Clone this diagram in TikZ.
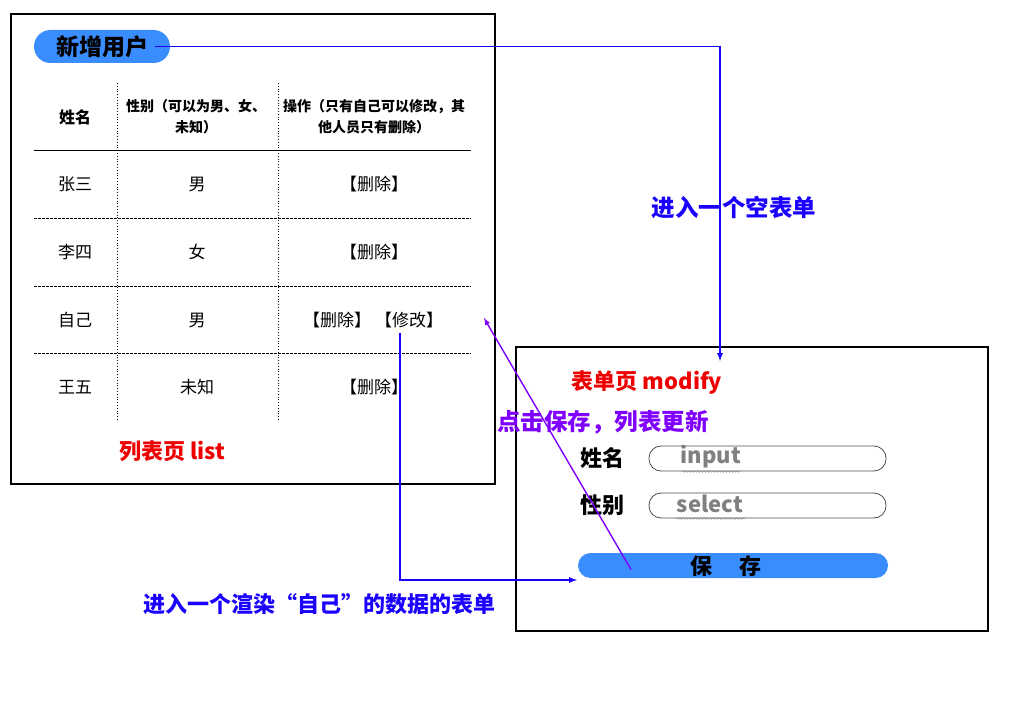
\documentclass[tikz,border=0pt]{standalone}
\usepackage{fontspec}
\setmainfont{Noto Sans CJK SC}
\usetikzlibrary{positioning,decorations.pathmorphing}
\definecolor{btnblue}{HTML}{3A8DFF}
\definecolor{linkblue}{HTML}{1A00FF}
\definecolor{clickpurple}{HTML}{8000FF}
\definecolor{pagered}{HTML}{EE0000}
\tikzset{
  frame/.style={draw=black, line width=1.8pt},
  pill/.style={fill=btnblue, inner sep=0pt},
  field/.style={draw=black!70, line width=0.8pt, rounded corners=12pt},
  cell/.style={font=\fontsize{17}{19}\selectfont},
  headcell/.style={font=\bfseries\fontsize{14}{21}\selectfont, align=center},
  note/.style={font=\bfseries\fontsize{22}{24}\selectfont},
  bignote/.style={font=\bfseries\fontsize{23.5}{26}\selectfont},
  flow/.style={line width=1.7pt, -latex},
  squiggle/.style={draw=black!45, line width=0.5pt, decorate,
    decoration={snake, amplitude=0.8pt, segment length=3pt}},
}
\begin{document}
\begin{tikzpicture}[x=1pt, y=-1pt]
  \useasboundingbox (0,0) rectangle (1012,701);

  % list page
  \draw[frame] (11,14) rectangle (495,484);
  \node[pill, minimum width=136pt, minimum height=33pt, rounded corners=16.5pt,
        font=\bfseries\fontsize{23}{25}\selectfont] (addbtn) at (102,46.5) {新增用户};

  \draw[dotted, line width=0.8pt] (117,83) -- (117,420);
  \draw[dotted, line width=0.8pt] (278,83) -- (278,420);
  \draw[line width=0.8pt] (34,150) -- (471,150);
  \draw[dash pattern=on 2.5pt off 1.5pt, line width=0.8pt] (34,218) -- (471,218);
  \draw[dash pattern=on 2.5pt off 1.5pt, line width=0.8pt] (34,286) -- (471,286);
  \draw[dash pattern=on 2.5pt off 1.5pt, line width=0.8pt] (34,353) -- (471,353);

  \node[headcell, font=\bfseries\fontsize{16}{18}\selectfont] (hname) at (75,117) {姓名};
  \node[headcell] (hsex) at (196,117) {性别（可以为男、女、\\未知）};
  \node[headcell] (hop) at (374,117) {操作（只有自己可以修改，其\\他人员只有删除）};

  \node[cell] (name1) at (75,184) {张三};
  \node[cell] (sex1) at (197,184) {男};
  \node[cell] (op1) at (374,184) {【删除】};
  \node[cell] (name2) at (75,252) {李四};
  \node[cell] (sex2) at (197,252) {女};
  \node[cell] (op2) at (374,252) {【删除】};
  \node[cell] (name3) at (75,320) {自己};
  \node[cell] (sex3) at (197,320) {男};
  \node[cell] (del3) at (337,320) {【删除】};
  \node[cell] (edit3) at (409,320) {【修改】};
  \node[cell] (name4) at (75,387) {王五};
  \node[cell] (sex4) at (197,387) {未知};
  \node[cell] (op4) at (374,387) {【删除】};

  \node[note, text=pagered] (listtitle) at (172,451) {列表页 list};

  % form page
  \draw[frame] (516,347) rectangle (988,631);
  \node[note, text=pagered] (formtitle) at (647,383) {表单页 modify};
  \node[note] (lname) at (602,458) {姓名};
  \node[note] (lsex) at (602,505) {性别};
  \draw[field] (649,446) rectangle (886,471);
  \draw[field] (649,493) rectangle (886,518);
  \node[note, text=black!50] (fname) at (711,457) {input};
  \node[note, text=black!50] (fsex) at (710,504) {select};
  \draw[squiggle] (682,471.5) -- (740,471.5);
  \draw[squiggle] (676,518.5) -- (745,518.5);
  \node[pill, minimum width=310pt, minimum height=25pt, rounded corners=12.5pt] (savebtn) at (733,565.5) {};
  \node[note] (savetext) at (725.5,566) {保\hspace{27pt}存};

  % flows
  \coordinate (formentry) at (720,361);
  \coordinate (savein) at (577,580);
  \coordinate (listback) at (484,318);
  \node[bignote, text=linkblue] (emptylbl) at (734,207) {进入一个空表单};
  \draw[flow, draw=linkblue] ([xshift=-15pt]addbtn.east) -| (formentry);
  \draw[flow, draw=linkblue] ([xshift=-9pt, yshift=-2pt]edit3.south) |- (savein);
  \node[note, text=linkblue] (editlbl) at (319,604) {进入一个渲染“自己”的数据的表单};
  \node[bignote, text=clickpurple] (savelbl) at (603,422) {点击保存，列表更新};
  \draw[flow, draw=clickpurple, line width=1.4pt] ([xshift=-102pt, yshift=-4pt]savebtn.center) -- (listback);
\end{tikzpicture}
\end{document}
